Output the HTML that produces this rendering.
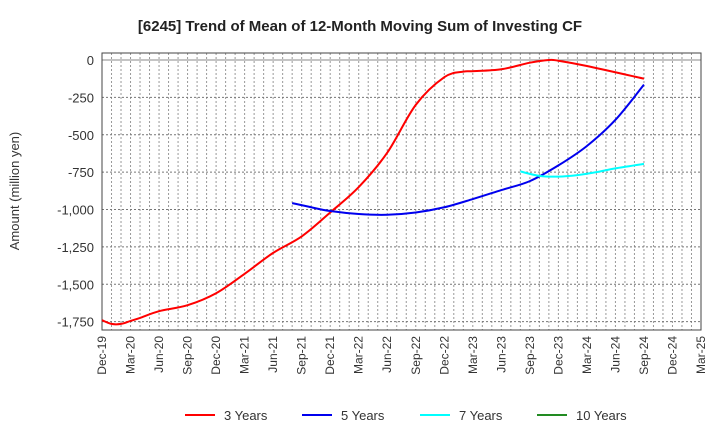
<!DOCTYPE html>
<html><head><meta charset="utf-8"><style>
body{margin:0;background:#fff;font-family:"Liberation Sans",sans-serif}
</style></head><body>
<svg id="c" width="720" height="440" font-family="Liberation Sans, sans-serif"></svg>
<script>
const xLabels=["Dec-19","Mar-20","Jun-20","Sep-20","Dec-20","Mar-21","Jun-21","Sep-21","Dec-21","Mar-22","Jun-22","Sep-22","Dec-22","Mar-23","Jun-23","Sep-23","Dec-23","Mar-24","Jun-24","Sep-24","Dec-24","Mar-25"];
const yTicks=[0,-250,-500,-750,-1000,-1250,-1500,-1750];
const m3=[0,1,2,3,4,6,9,12,15,18,21,24,27,30,33,36,38,39,42,45,47,48,51,57];
const v3=[-1740,-1765,-1765,-1745,-1725,-1680,-1640,-1560,-1430,-1290,-1180,-1020,-850,-620,-300,-115,-78,-75,-62,-18,0,-5,-40,-125];
const m5=[20,22,24,27,30,33,36,39,42,45,48,51,54,57];
const v5=[-957,-985,-1010,-1030,-1035,-1020,-985,-930,-870,-810,-705,-575,-400,-165];
const m7=[44,46,48,50,52,54,57];
const v7=[-745,-775,-780,-770,-750,-725,-695];
const m10=[],v10=[];
const svg=document.getElementById('c'),NS='http://www.w3.org/2000/svg';
const L=102,R=701,T=53,B=330;
const X=m=>L+(R-L)*m/63;
const Y=v=>60+(-v)/250*37.38;
function el(t,a,p){const e=document.createElementNS(NS,t);for(const k in a)e.setAttribute(k,a[k]);(p||svg).appendChild(e);return e;}
const g=el('g',{});
for(let m=1;m<63;m++)el('line',{x1:X(m),x2:X(m),y1:T,y2:B,stroke:'#999','stroke-dasharray':'2,2','stroke-width':1},g);
yTicks.forEach(v=>el('line',{x1:L,x2:R,y1:Y(v),y2:Y(v),stroke:v==0?'#888':'#777','stroke-dasharray':v==0?'':'2,2','stroke-width':1},g));
const fr=el('rect',{x:L,y:T,width:R-L,height:B-T,fill:'none',stroke:'#444','stroke-width':1});

yTicks.forEach(v=>{const t=el('text',{x:L-8,y:Y(v)+5,'text-anchor':'end','font-size':13,fill:'#333'});t.textContent=v.toLocaleString('en-US');
});
xLabels.forEach((s,i)=>{const x=X(i*3),y=B+6;const t=el('text',{x:x+4,y:y,'text-anchor':'end','font-size':12,fill:'#333',transform:`rotate(-90 ${x+4} ${y})`});t.textContent=s;
});
const yt=el('text',{x:19,y:191,'text-anchor':'middle','font-size':13,fill:'#333',transform:'rotate(-90 19 191)'});yt.textContent='Amount (million yen)';

const tt=el('text',{x:360,y:31,'text-anchor':'middle','font-size':15,'font-weight':'bold',fill:'#222'});tt.textContent='[6245]  Trend of Mean of 12-Month Moving Sum of Investing CF';

function path(ms,vs){const p=ms.map((m,i)=>[X(m),Y(vs[i])]);if(!p.length)return'';let d=`M${p[0][0]},${p[0][1]}`;
for(let i=0;i<p.length-1;i++){const p0=p[i-1]||p[i],p1=p[i],p2=p[i+1],p3=p[i+2]||p2;
d+=`C${p1[0]+(p2[0]-p0[0])/6},${p1[1]+(p2[1]-p0[1])/6} ${p2[0]-(p3[0]-p1[0])/6},${p2[1]-(p3[1]-p1[1])/6} ${p2[0]},${p2[1]}`;}return d;}
[[m3,v3,'#ff0000','series-3-years'],[m5,v5,'#0000ee','series-5-years'],[m7,v7,'#00ffff','series-7-years'],[m10,v10,'#228b22','series-10-years']].forEach(s=>{
if(!s[0].length)return;const p=el('path',{d:path(s[0],s[1]),fill:'none',stroke:s[2],'stroke-width':2});
});
const leg=[['3 Years','#ff0000',185],['5 Years','#0000ee',302],['7 Years','#00ffff',420],['10 Years','#228b22',537]];
leg.forEach(l=>{const g2=el('g',{});
el('line',{x1:l[2],x2:l[2]+30,y1:415,y2:415,stroke:l[1],'stroke-width':2},g2);
const t=el('text',{x:l[2]+39,y:420,'font-size':13,fill:'#333'},g2);t.textContent=l[0];});
</script>
</body></html>
